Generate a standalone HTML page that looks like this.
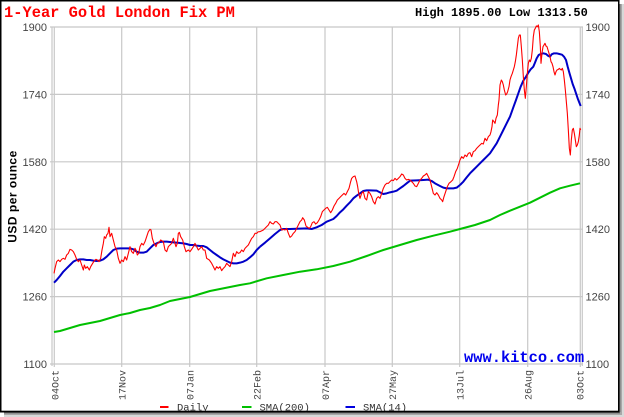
<!DOCTYPE html>
<html><head><meta charset="utf-8"><style>
html,body{margin:0;padding:0;background:#fff;}
svg{display:block;}
</style></head><body>
<svg width="624" height="417" viewBox="0 0 624 417" xmlns="http://www.w3.org/2000/svg">
<rect x="0" y="0" width="624" height="417" fill="#fff"/>
<!-- shadow -->
<rect x="619" y="4" width="5" height="413" fill="#d8d8d8"/>
<rect x="619" y="4" width="3" height="413" fill="#a8a8a8"/>
<rect x="619" y="4" width="1.5" height="413" fill="#777"/>
<rect x="4" y="412" width="620" height="5" fill="#d8d8d8"/>
<rect x="4" y="412" width="618" height="3" fill="#a8a8a8"/>
<rect x="4" y="412" width="616" height="1.5" fill="#777"/>
<!-- frame -->
<rect x="0.75" y="0.75" width="618" height="411" fill="#fff" stroke="#000" stroke-width="1.5"/>

<!-- grid -->
<g stroke="#c8c8c8" stroke-width="1.2" fill="none">
<line x1="50" y1="27" x2="583" y2="27"/>
<line x1="50" y1="94.4" x2="583" y2="94.4"/>
<line x1="50" y1="161.8" x2="583" y2="161.8"/>
<line x1="50" y1="229.2" x2="583" y2="229.2"/>
<line x1="50" y1="296.6" x2="583" y2="296.6"/>
<line x1="50" y1="364" x2="583" y2="364"/>
<line x1="52" y1="27" x2="52" y2="366"/>
<line x1="54.3" y1="27" x2="54.3" y2="367"/>
<line x1="121.7" y1="27" x2="121.7" y2="367"/>
<line x1="189.7" y1="27" x2="189.7" y2="367"/>
<line x1="256.7" y1="27" x2="256.7" y2="367"/>
<line x1="325" y1="27" x2="325" y2="367"/>
<line x1="392.3" y1="27" x2="392.3" y2="367"/>
<line x1="459.7" y1="27" x2="459.7" y2="367"/>
<line x1="527.7" y1="27" x2="527.7" y2="367"/>
<line x1="580.3" y1="27" x2="580.3" y2="367"/>
<line x1="582.3" y1="27" x2="582.3" y2="366"/>
</g>

<!-- titles -->
<text x="4" y="17" font-family="Liberation Mono, monospace" font-weight="bold" font-size="15.4" fill="#ff0000">1-Year Gold London Fix PM</text>
<text x="415" y="16" font-family="Liberation Mono, monospace" font-weight="bold" font-size="12" fill="#000">High 1895.00 Low 1313.50</text>
<text x="464" y="362" font-family="Liberation Mono, monospace" font-weight="bold" font-size="15.4" fill="#0000ee">www.kitco.com</text>

<!-- y labels -->
<g font-family="Liberation Sans, sans-serif" font-size="11" fill="#444">
<g text-anchor="end">
<text x="47" y="31">1900</text>
<text x="47" y="98.4">1740</text>
<text x="47" y="165.8">1580</text>
<text x="47" y="233.2">1420</text>
<text x="47" y="300.6">1260</text>
<text x="47" y="368">1100</text>
</g>
<text x="585.5" y="31">1900</text>
<text x="585.5" y="98.4">1740</text>
<text x="585.5" y="165.8">1580</text>
<text x="585.5" y="233.2">1420</text>
<text x="585.5" y="300.6">1260</text>
<text x="585.5" y="368">1100</text>
</g>
<text transform="translate(16.5,196.5) rotate(-90)" text-anchor="middle" font-family="Liberation Sans, sans-serif" font-weight="bold" font-size="12" letter-spacing="0.5" fill="#000">USD per ounce</text>

<!-- x labels -->
<g font-family="Liberation Mono, monospace" font-size="10" fill="#444" text-anchor="end">
<text transform="translate(58.5,370) rotate(-90)">04Oct</text>
<text transform="translate(125.5,370) rotate(-90)">17Nov</text>
<text transform="translate(193.5,370) rotate(-90)">07Jan</text>
<text transform="translate(260.5,370) rotate(-90)">22Feb</text>
<text transform="translate(328.8,370) rotate(-90)">07Apr</text>
<text transform="translate(396,370) rotate(-90)">27May</text>
<text transform="translate(463.5,370) rotate(-90)">13Jul</text>
<text transform="translate(531.5,370) rotate(-90)">26Aug</text>
<text transform="translate(583.5,370) rotate(-90)">03Oct</text>
</g>

<!-- SMA200 green -->
<polyline fill="none" stroke="#00c000" stroke-width="2" stroke-linejoin="round" points="54,332 60,331 70,328 80,325 90,323 100,321 110,318 120,315 130,313 140,310 150,308 160,305 170,301 180,299 190,297 200,294 210,291 220,289 230,287 240,285 250,283.3 266.7,278.3 283.3,275 300,271.7 316.7,269.3 333.3,266 350,261.7 366.7,256 383.3,250 400,245 416.7,240 433.3,235.7 450,231.7 460,229 475,225 490,220 500,215 510,210.7 520,206.7 530,202.7 540,197.7 550,192.7 560,188.3 570,185.7 580,183.3"/>

<!-- SMA14 blue -->
<g fill="none" stroke="#0000c8" stroke-width="2" stroke-linejoin="round">
<polyline vector-effect="non-scaling-stroke" transform="translate(50,200) scale(0.33333)" points="12,248 20,240 30,228 40,215 50,205 60,195 70,185 80,180 90,178 100,178 110,180 120,180 130,182 140,183 150,182 160,178 170,170 180,160 190,150 200,146 210,145 220,145 230,145 240,145 250,148 260,155 270,158 280,158 290,155 300,145 310,135 320,130 330,126 340,125 350,125 360,126 370,127 380,128 390,129 400,130 410,132 420,135 430,135 440,137 450,138 460,138 470,142 480,150 490,158 500,165 510,172 520,178 530,183 540,188 550,190 560,190 570,188 580,185 590,180 600,172 610,163 620,150 630,140"/>
<polyline vector-effect="non-scaling-stroke" transform="translate(250,150) scale(0.33333)" points="30,290 45,278 60,265 75,252 90,240 100,237 120,237 150,236 170,235 185,237 200,232 215,225 230,215 250,207 260,198 270,187 280,178 290,167 300,157 310,145 320,137 330,130 340,123 350,121 360,121 380,122 390,127 400,132 410,130 420,127 430,125 440,122 450,115 460,108 470,100 480,92 500,91 520,90 535,89 545,93 555,100 570,108 580,113 590,115 610,115 620,113 630,105"/>
<polyline vector-effect="non-scaling-stroke" transform="translate(440,20) scale(0.33333)" points="60,495 70,485 80,472 90,460 100,450 110,440 120,430 130,420 140,410 150,400 160,385 170,370 180,350 190,330 200,310 210,290 220,262 228,240 235,220 242,200 250,182 258,170 265,158 272,148 280,140 285,128 290,115 296,105 302,102 310,100 318,102 325,108 330,110 335,103 342,100 350,100 358,102 366,104 372,110 378,120 383,140 388,158 393,175 398,192 403,205 408,220 413,235 418,248 422,258"/>
</g>

<!-- Daily red -->
<g fill="none" stroke="#ff0000" stroke-width="1.1" stroke-linejoin="round">
<polyline vector-effect="non-scaling-stroke" transform="translate(50,200) scale(0.33333)" points="12,220 15,205 20,185 25,180 30,185 35,178 40,175 45,178 50,165 55,160 60,148 65,150 70,155 75,165 80,178 85,185 90,180 95,195 100,210 103,195 107,205 112,200 118,210 122,200 128,190 133,182 138,178 142,180 147,185 152,175 156,150 160,130 163,110 167,115 170,105 174,100 177,82 180,110 185,100 190,120 195,140 200,150 205,175 210,190 215,180 220,185 225,170 230,180 235,160 240,140 245,155 250,160 255,145 258,150 262,165 266,160 270,140 275,130 280,135 285,125 290,110 295,95 300,88 303,90 307,115 312,130 318,140 322,130 327,128 332,120 340,125 345,150 350,155 355,140 360,135 365,130 370,115 378,140 382,130 385,100 388,97 392,110 398,120 403,140 408,155 415,150 420,155 425,148 430,140 435,130 440,140 445,150 450,145 455,140 460,150 465,150 470,175 478,180 485,190 490,200 495,210 500,200 505,205 510,200 515,212 520,205 525,200 530,190 535,195 540,200 545,185 550,160 555,170 560,155 565,160 570,158 575,150 580,155 585,145 590,140 595,135 600,125 605,115 610,110 615,100 620,100 625,95"/>
<polyline vector-effect="non-scaling-stroke" transform="translate(250,150) scale(0.33333)" points="25,245 30,245 40,240 50,230 55,225 60,215 65,220 70,222 75,215 80,215 85,220 90,225 95,240 100,238 105,240 110,235 115,250 120,262 125,258 130,250 135,245 140,235 145,225 150,215 155,210 158,203 163,210 168,228 173,232 178,235 182,230 187,218 192,215 197,222 202,218 207,210 212,200 217,185 222,180 227,175 232,172 237,180 242,188 247,180 252,168 257,160 262,150 267,145 272,140 277,135 282,130 287,135 292,125 297,115 302,95 305,85 310,80 315,78 320,95 323,110 326,130 330,145 335,130 340,125 345,145 350,150 355,125 360,130 365,140 370,155 375,162 380,145 385,140 390,145 395,130 400,115 405,105 410,100 415,100 420,95 425,90 430,92 435,85 440,90 445,85 450,80 455,72 460,75 465,85 470,90 475,88 480,90 485,95 490,100 495,108 500,110 505,100 510,90 515,85 520,78 525,75 530,70 535,80 540,90 545,110 550,130 555,135 560,128 565,135 570,145 575,150 578,155 582,140 587,125 592,110 597,100 603,95 608,90 612,80 617,65 622,55 627,40 630,30"/>
<polyline vector-effect="non-scaling-stroke" transform="translate(440,20) scale(0.33333)" points="60,420 65,410 70,415 75,405 80,410 85,400 90,398 95,410 100,395 105,392 110,385 115,380 120,375 125,370 130,372 135,355 140,362 145,350 150,345 153,335 156,320 158,300 162,305 165,310 168,295 172,285 175,255 177,240 180,195 184,180 187,185 190,195 193,210 197,225 200,222 203,215 207,200 210,180 213,170 217,160 220,150 223,140 226,125 229,105 232,80 235,55 238,45 241,45 244,80 247,120 250,170 253,210 256,235 259,200 262,160 265,130 268,120 271,125 274,115 277,90 280,50 283,30 286,25 289,18 292,20 295,15 298,35 301,80 303,130 306,100 309,80 312,75 315,70 318,78 321,80 324,90 327,100 330,110 333,125 336,130 339,140 342,155 345,165 348,155 351,150 355,148 358,145 361,148 364,150 367,145 370,155 373,180 376,210 379,245 382,280 385,330 388,385 391,405 394,360 397,330 400,325 403,340 406,360 409,380 412,375 415,365 418,345 420,325 422,330"/>
</g>

<!-- legend -->
<g stroke-width="2">
<line x1="160" y1="407" x2="168.5" y2="407" stroke="#ff0000"/>
<line x1="242" y1="407" x2="251.5" y2="407" stroke="#00c000"/>
<line x1="345.5" y1="407" x2="355" y2="407" stroke="#0000e0"/>
</g>
<g font-family="Liberation Mono, monospace" font-size="10.5" fill="#333">
<text x="177" y="410.5">Daily</text>
<text x="259.5" y="410.5">SMA(200)</text>
<text x="363" y="410.5">SMA(14)</text>
</g>
<!-- bottom border over legend -->
<rect x="0" y="410.7" width="619.5" height="1.6" fill="#000"/>
</svg>
</body></html>
